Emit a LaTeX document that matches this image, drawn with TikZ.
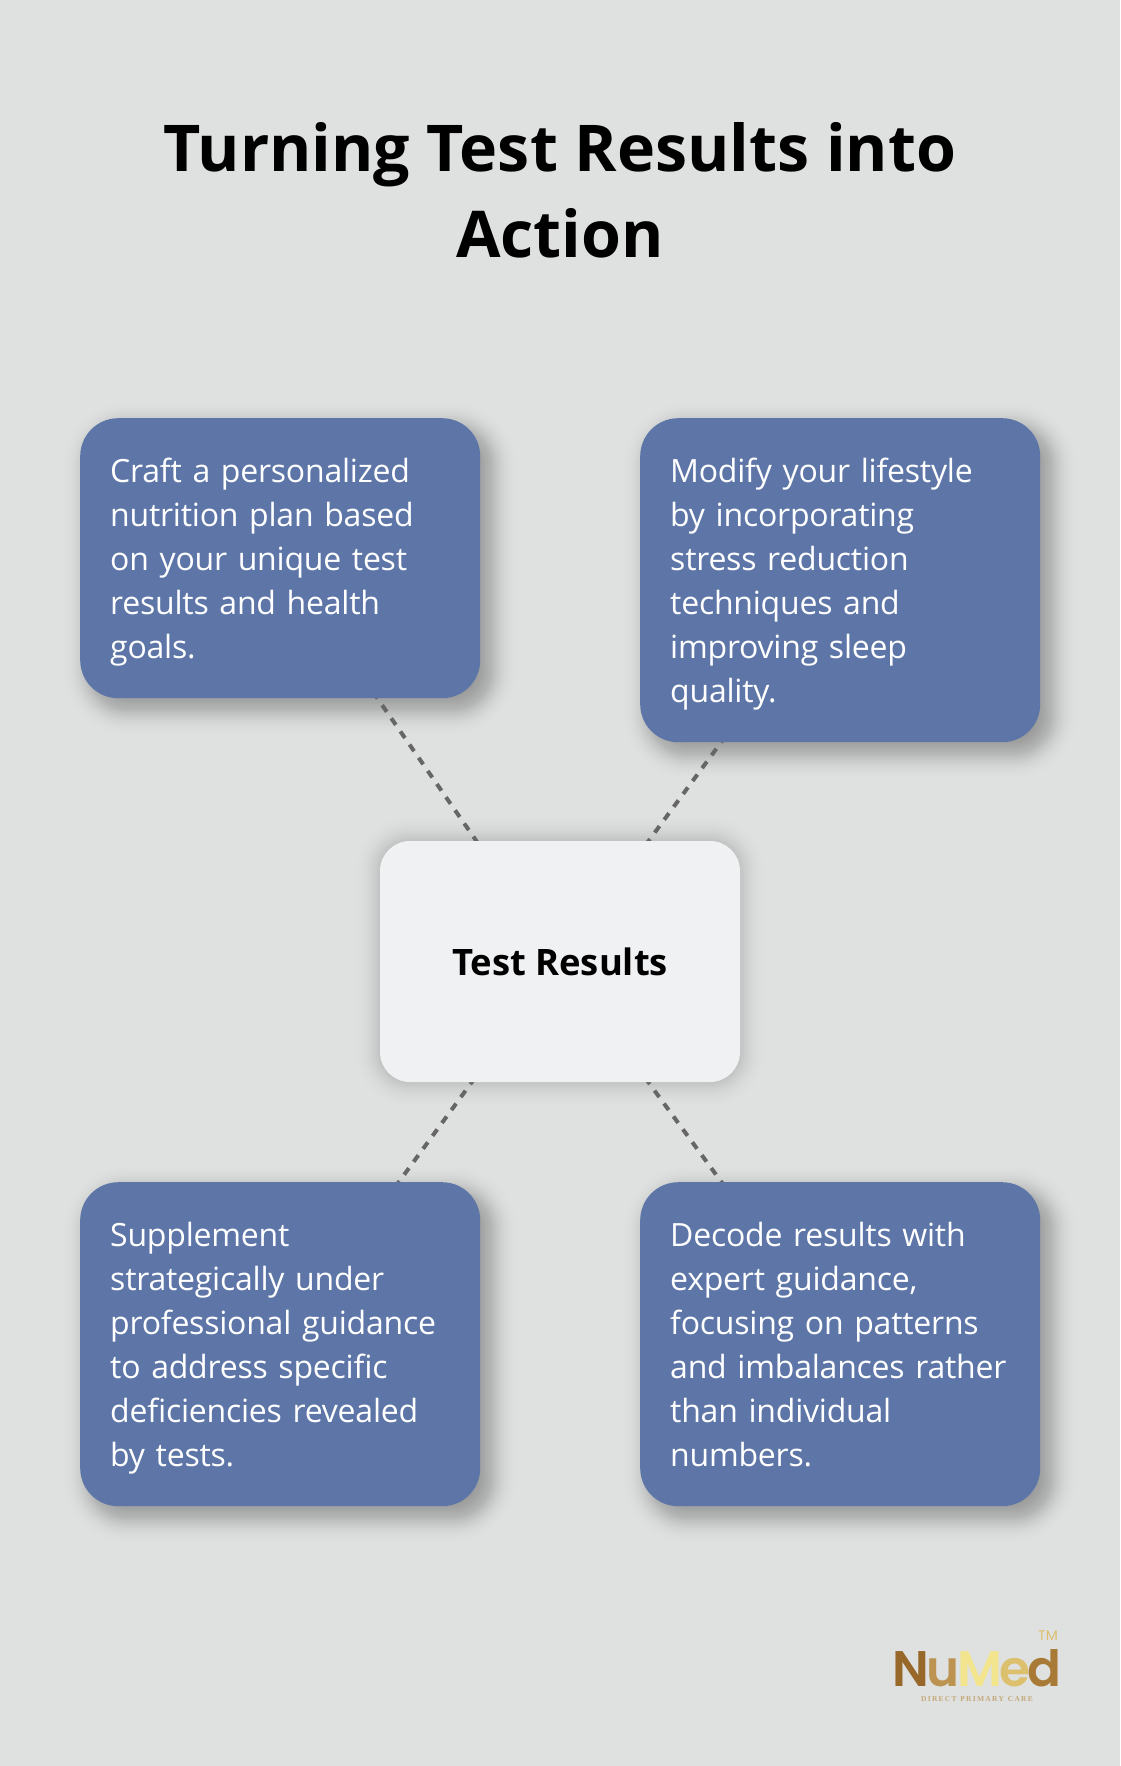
\documentclass[tikz,border=0pt]{standalone}
\usepackage{fontspec}
\setmainfont{Open Sans}
\newfontfamily\logofont{Poppins SemiBold}
\newfontfamily\tmfont{Poppins}
\newfontfamily\tagfont{Liberation Serif}
\usetikzlibrary{calc}
\definecolor{bgc}{HTML}{DFE1E0}
\definecolor{bluec}{HTML}{5D76A7}
\definecolor{centerc}{HTML}{F0F1F3}
\definecolor{linec}{HTML}{666666}
\definecolor{goldA}{HTML}{98682B}
\definecolor{goldB}{HTML}{BC9350}
\definecolor{goldC}{HTML}{F3E48E}
\definecolor{goldD}{HTML}{DDC06E}
\definecolor{goldE}{HTML}{A87A35}
\definecolor{goldF}{HTML}{C4A877}
\pgfdeclarelayer{bglayer}
\pgfdeclarelayer{shadowlayer}
\pgfdeclarelayer{linelayer}
\pgfsetlayers{bglayer,shadowlayer,linelayer,main}
\newcommand{\bodystrutA}{\rule{0pt}{34.5pt}}
\newcommand{\bodystrutB}{\rule[-9.5pt]{0pt}{9.5pt}}
\tikzset{
  x=1pt,y=-1pt,
  actionbox/.style={draw=none,fill=bluec,rounded corners=38pt,text=white,inner sep=0pt,
    text width=340pt,align=left,minimum width=400pt,anchor=north west,
    font=\fontsize{32}{44}\selectfont\addfontfeature{LetterSpace=-0.7}},
  centerbox/.style={draw=none,fill=centerc,rounded corners=30pt,text=black,inner sep=0pt,
    minimum width=360pt,minimum height=241pt,font=\fontsize{36.4}{44}\selectfont\bfseries},
  titletext/.style={align=center,text=black,inner sep=0pt,font=\fontsize{64.5}{86}\selectfont\bfseries},
  dashline/.style={draw=linec,line width=4pt,dash pattern=on 8pt off 8pt},
}
% blurred shadow: #4 corner radius, #5 peak opacity, gaussian sigma 12
\newcommand{\softshadow}[5]{%
  \foreach \r in {-30,-28,...,30}{%
    \pgfmathsetmacro{\op}{#5*0.0665*exp(-0.5*(\r/12)*(\r/12))}%
    \fill[black,fill opacity=\op]
      ($(#1.north west)+(#2-\r,#3-\r)$) [rounded corners={max(#4+\r,4)*1pt}]
      rectangle ($(#1.south east)+(#2+\r,#3+\r)$);%
  }%
}
\begin{document}
\begin{tikzpicture}
\begin{pgfonlayer}{bglayer}
\path[use as bounding box,fill=bgc] (0,0) rectangle (1120,1766);
\end{pgfonlayer}
\node[titletext] (title) at (560,190) {Turning Test Results into\\Action};
\node[actionbox,minimum height=280pt] (tl) at (80,418) {\bodystrutA Craft a personalized\\nutrition plan based\\on your unique test\\results and health\\goals.\bodystrutB};
\node[actionbox,minimum height=324pt] (tr) at (640,418) {\bodystrutA Modify your lifestyle\\by incorporating\\stress reduction\\techniques and\\improving sleep\\quality.\bodystrutB};
\node[actionbox,minimum height=324pt] (bl) at (80,1182) {\bodystrutA Supplement\\strategically under\\professional guidance\\to address specific\\deficiencies revealed\\by tests.\bodystrutB};
\node[actionbox,minimum height=324pt] (br) at (640,1182) {\bodystrutA Decode results with\\expert guidance,\\focusing on patterns\\and imbalances rather\\than individual\\numbers.\bodystrutB};
\node[centerbox] (center) at (560,961.5) {\raisebox{-1pt}{Test Results}};
\node[inner sep=0pt,anchor=base west,font=\logofont\fontsize{50}{50}\selectfont] (logo) at (892,1686)
  {\textcolor{goldA}{N}\kern-2.5pt\textcolor{goldB}{u}\kern-2.5pt\textcolor{goldC}{M}\kern-2.5pt\textcolor{goldD}{e}\kern-2.5pt\textcolor{goldE}{d}};
\node[inner sep=0pt,anchor=base east,text=goldD,font=\tmfont\fontsize{14}{14}\selectfont] (tm) at (1058,1640) {TM};
\node[inner sep=0pt,anchor=base,text=goldF,font=\tagfont\fontsize{7.5}{8}\selectfont\bfseries] (tag) at (977,1701) {D\,I\,R\,E\,C\,T\ \ P\,R\,I\,M\,A\,R\,Y\ \ C\,A\,R\,E};
\begin{pgfonlayer}{linelayer}
  \draw[dashline] (center.center) -- (tl.center);
  \draw[dashline] (center.center) -- (tr.center);
  \draw[dashline] (center.center) -- (bl.center);
  \draw[dashline] (center.center) -- (br.center);
\end{pgfonlayer}
\begin{pgfonlayer}{shadowlayer}
  \softshadow{tl}{10}{10}{38}{0.36}
  \softshadow{tr}{10}{10}{38}{0.36}
  \softshadow{bl}{10}{10}{38}{0.36}
  \softshadow{br}{10}{10}{38}{0.36}
  \softshadow{center}{0}{0}{30}{0.22}
\end{pgfonlayer}
\end{tikzpicture}
\end{document}
